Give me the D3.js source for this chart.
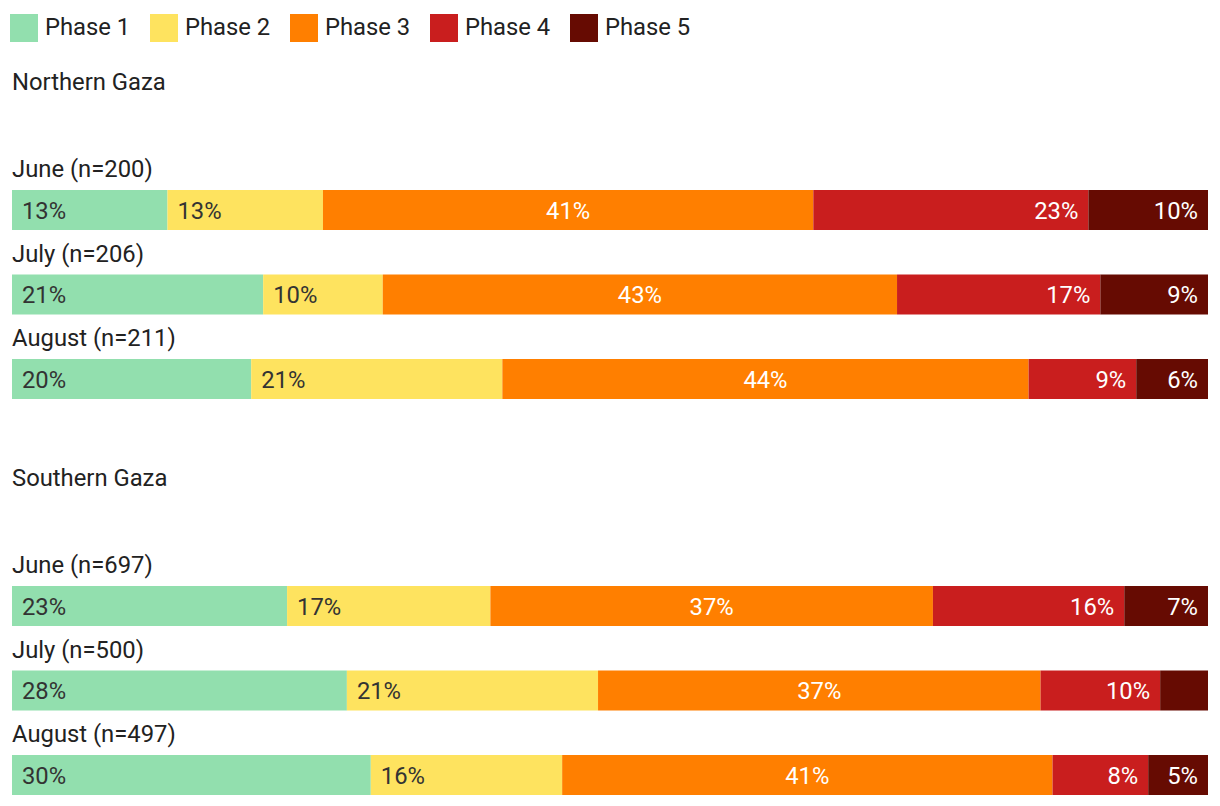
<!DOCTYPE html>
<html>
<head>
<meta charset="utf-8">
<script src="https://cdn.jsdelivr.net/npm/d3@7"></script>
<style>
  html, body { margin: 0; padding: 0; background: #fff; }
  svg { display: block; font-family: Roboto, "Noto Sans", sans-serif; }
</style>
</head>
<body>
<svg id="chart" width="1220" height="806"></svg>
<script>
const phases = ["Phase 1", "Phase 2", "Phase 3", "Phase 4", "Phase 5"];
const colors = ["#92dfae", "#fee35f", "#ff7f00", "#c91e1e", "#660b02"];
const regions = ["Northern Gaza", "Southern Gaza"];
const months = ["June", "July", "August"];
const northN = [200, 206, 211];
const southN = [697, 500, 497];
const northValues = [
  [13, 13, 41, 23, 10],
  [21, 10, 43, 17, 9],
  [20, 21, 44, 9, 6]
];
const southValues = [
  [23, 17, 37, 16, 7],
  [28, 21, 37, 10, 4],
  [30, 16, 41, 8, 5]
];

const svg = d3.select("#chart");
const FS = 23.8;
const x = d3.scaleLinear().domain([0, 100]).range([12, 1208]);

// Legend
const legend = svg.append("g");
phases.forEach((p, i) => {
  const g = legend.append("g").attr("transform", `translate(${10 + i * 140},14)`);
  g.append("rect").attr("width", 28).attr("height", 28).attr("fill", colors[i]);
  g.append("text").attr("x", 35).attr("y", 21).attr("font-size", FS)
    .attr("fill", "#222").text(p);
});

const groups = [
  { name: regions[0], n: northN, values: northValues, top: 90 },
  { name: regions[1], n: southN, values: southValues, top: 486 }
];

groups.forEach(grp => {
  const g = svg.append("g");
  g.append("text").attr("x", 12).attr("y", grp.top).attr("font-size", FS)
    .attr("fill", "#222").text(grp.name);
  const y = d3.scaleBand().domain(months).range([grp.top + 100, grp.top + 100 + 84.5 * 3])
    .paddingInner(0).paddingOuter(0);
  months.forEach((m, r) => {
    const barTop = y(m);
    g.append("text").attr("x", 12).attr("y", barTop - 13).attr("font-size", FS)
      .attr("fill", "#222").text(`${m} (n=${grp.n[r]})`);
    const vals = grp.values[r];
    const cum = d3.cumsum(vals);
    vals.forEach((v, i) => {
      const x0 = x(cum[i] - v), x1 = x(cum[i]);
      g.append("rect").attr("x", x0).attr("y", barTop).attr("width", x1 - x0)
        .attr("height", 40).attr("fill", colors[i]);
      const label = v + "%";
      if ((x1 - x0) < 55) return;
      let tx, anchor;
      if (i < 2) { tx = x0 + 10; anchor = "start"; }
      else if (i === 2) { tx = (x0 + x1) / 2; anchor = "middle"; }
      else { tx = x1 - 10; anchor = "end"; }
      g.append("text").attr("x", tx).attr("y", barTop + 28.5).attr("font-size", FS)
        .attr("text-anchor", anchor)
        .attr("fill", i < 2 ? "#333" : "#fff").text(label);
    });
  });
});
</script>
</body>
</html>
